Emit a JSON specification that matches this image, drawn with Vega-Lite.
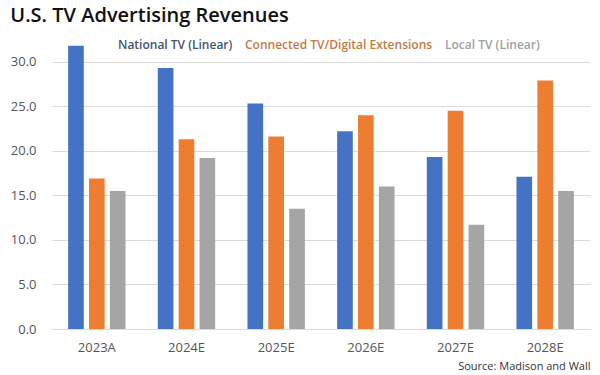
{
  "$schema": "https://vega.github.io/schema/vega-lite/v6.json",
  "autosize": {"type": "fit", "contains": "padding"},
  "width": 600,
  "height": 375,
  "padding": {"left": 10, "right": 10, "top": 6, "bottom": 4},
  "background": "white",
  "title": {
    "text": "U.S. TV Advertising Revenues",
    "anchor": "start",
    "frame": "bounds",
    "font": "Open Sans",
    "fontSize": 20,
    "fontWeight": 600,
    "color": "#111111",
    "offset": 9
  },
  "config": {
    "font": "Open Sans",
    "view": {"stroke": null}
  },
  "data": {
    "values": [
      {"year": "2023A", "series": "National TV (Linear)", "value": 31.8},
      {"year": "2023A", "series": "Connected TV/Digital Extensions", "value": 16.9},
      {"year": "2023A", "series": "Local TV (Linear)", "value": 15.5},
      {"year": "2024E", "series": "National TV (Linear)", "value": 29.3},
      {"year": "2024E", "series": "Connected TV/Digital Extensions", "value": 21.3},
      {"year": "2024E", "series": "Local TV (Linear)", "value": 19.2},
      {"year": "2025E", "series": "National TV (Linear)", "value": 25.3},
      {"year": "2025E", "series": "Connected TV/Digital Extensions", "value": 21.6},
      {"year": "2025E", "series": "Local TV (Linear)", "value": 13.5},
      {"year": "2026E", "series": "National TV (Linear)", "value": 22.2},
      {"year": "2026E", "series": "Connected TV/Digital Extensions", "value": 24.0},
      {"year": "2026E", "series": "Local TV (Linear)", "value": 16.0},
      {"year": "2027E", "series": "National TV (Linear)", "value": 19.3},
      {"year": "2027E", "series": "Connected TV/Digital Extensions", "value": 24.5},
      {"year": "2027E", "series": "Local TV (Linear)", "value": 11.7},
      {"year": "2028E", "series": "National TV (Linear)", "value": 17.1},
      {"year": "2028E", "series": "Connected TV/Digital Extensions", "value": 27.9},
      {"year": "2028E", "series": "Local TV (Linear)", "value": 15.5}
    ]
  },
  "mark": {"type": "bar"},
  "encoding": {
    "x": {
      "field": "year",
      "type": "nominal",
      "sort": null,
      "scale": {"paddingInner": 0.36, "paddingOuter": 0.18},
      "axis": {
        "title": "Source: Madison and Wall",
        "titleAnchor": "end",
        "titleAlign": "right",
        "titleFontSize": 11,
        "titleFontWeight": "normal",
        "titleColor": "#333333",
        "titlePadding": 6,
        "labelAngle": 0,
        "labelFontSize": 13,
        "labelColor": "#555555",
        "labelPadding": 12,
        "ticks": false,
        "domain": true,
        "domainColor": "#d9d9d9",
        "grid": false
      }
    },
    "xOffset": {
      "field": "series",
      "type": "nominal",
      "sort": ["National TV (Linear)", "Connected TV/Digital Extensions", "Local TV (Linear)"],
      "scale": {"paddingInner": 0.25, "paddingOuter": 0}
    },
    "y": {
      "field": "value",
      "type": "quantitative",
      "scale": {"domain": [0, 33], "nice": false},
      "axis": {
        "title": null,
        "values": [0, 5, 10, 15, 20, 25, 30],
        "format": ".1f",
        "labelFontSize": 13,
        "labelColor": "#555555",
        "labelPadding": 16,
        "ticks": false,
        "domain": false,
        "gridColor": "#d9d9d9",
        "gridWidth": 1
      }
    },
    "color": {
      "field": "series",
      "type": "nominal",
      "sort": ["National TV (Linear)", "Connected TV/Digital Extensions", "Local TV (Linear)"],
      "scale": {
        "domain": ["National TV (Linear)", "Connected TV/Digital Extensions", "Local TV (Linear)"],
        "range": ["#4472C4", "#ED7D31", "#A5A5A5"]
      },
      "legend": {
        "title": null,
        "orient": "none",
        "direction": "horizontal",
        "legendX": 54,
        "legendY": 4,
        "symbolSize": 0,
        "symbolStrokeWidth": 0,
        "symbolOpacity": 0,
        "labelOffset": 0,
        "columnPadding": 0,
        "labelFontSize": 12,
        "labelFontWeight": 600,
        "labelLimit": 300,
        "encode": {
          "labels": {
            "enter": {
              "fill": {"signal": "indexof(datum.label, 'National') >= 0 ? '#44546A' : indexof(datum.label, 'Local') >= 0 ? '#A0A0A0' : '#C47A45'"}
            },
            "update": {
              "fill": {"signal": "indexof(datum.label, 'National') >= 0 ? '#44546A' : indexof(datum.label, 'Local') >= 0 ? '#A0A0A0' : '#C47A45'"}
            }
          }
        }
      }
    }
  }
}
